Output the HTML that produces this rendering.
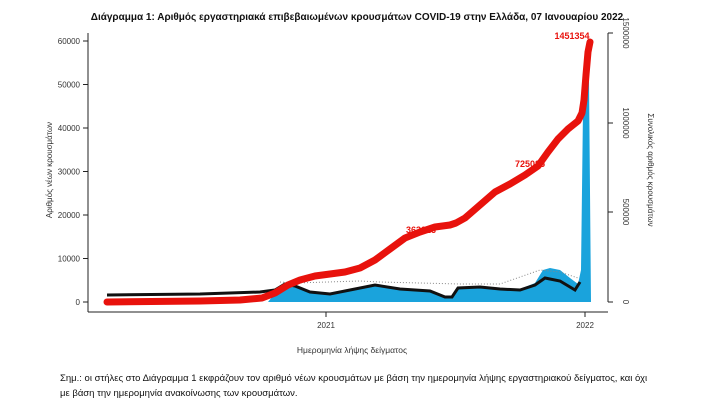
<!DOCTYPE html>
<html><head><meta charset="utf-8"><style>
body{margin:0;background:#fff;width:722px;height:418px;overflow:hidden}
svg{display:block;font-family:"Liberation Sans","DejaVu Sans",sans-serif}
</style></head><body>
<svg width="722" height="418" viewBox="0 0 722 418">
<text x="357" y="20" font-size="10" font-weight="bold" text-anchor="middle" fill="#111">Διάγραμμα 1: Αριθμός εργαστηριακά επιβεβαιωμένων κρουσμάτων COVID-19 στην Ελλάδα, 07 Ιανουαρίου 2022</text>
<g stroke="#222" stroke-width="1" fill="none">
<line x1="88" y1="33" x2="88" y2="312"/>
<line x1="88" y1="312" x2="608" y2="312"/>
<line x1="608" y1="33" x2="608" y2="302"/>
<line x1="83" y1="41" x2="88" y2="41"/><line x1="83" y1="84.5" x2="88" y2="84.5"/><line x1="83" y1="128" x2="88" y2="128"/><line x1="83" y1="171.5" x2="88" y2="171.5"/><line x1="83" y1="215" x2="88" y2="215"/><line x1="83" y1="258.5" x2="88" y2="258.5"/><line x1="83" y1="302" x2="88" y2="302"/>
<line x1="608" y1="33" x2="613" y2="33"/><line x1="608" y1="123" x2="613" y2="123"/><line x1="608" y1="212" x2="613" y2="212"/><line x1="608" y1="302" x2="613" y2="302"/>
<line x1="326" y1="312" x2="326" y2="317"/><line x1="585" y1="312" x2="585" y2="317"/>
</g>
<g font-size="8" fill="#333" text-anchor="end">
<text x="80" y="44">60000</text><text x="80" y="87.5">50000</text><text x="80" y="131">40000</text><text x="80" y="174.5">30000</text><text x="80" y="218">20000</text><text x="80" y="261.5">10000</text><text x="80" y="305">0</text>
</g>
<g font-size="8" fill="#333" text-anchor="middle">
<text transform="translate(623,33) rotate(90)">1500000</text>
<text transform="translate(623,123) rotate(90)">1000000</text>
<text transform="translate(623,212) rotate(90)">500000</text>
<text transform="translate(623,302) rotate(90)">0</text>
<text x="326" y="328">2021</text><text x="585" y="328">2022</text>
</g>
<text transform="translate(52,170) rotate(-90)" font-size="8" fill="#333" text-anchor="middle">Αριθμός νέων κρουσμάτων</text>
<text transform="translate(648,170) rotate(90)" font-size="8" fill="#333" text-anchor="middle">Συνολικός αριθμός κρουσμάτων</text>
<text x="352" y="353" font-size="8.5" fill="#333" text-anchor="middle">Ημερομηνία λήψης δείγματος</text>
<polygon fill="#1aa3dc" points="268,302 276,292 285,284 295,286 310,292 330,294 350,290 375,284 400,288 430,290 445,296 452,296 458,287 480,286 500,288 520,289 535,283 543,270 550,268 560,270 570,278 578,284 581,270 583,110 585,62 587,55 589,80 591,302"/>
<polyline fill="none" stroke="#111" stroke-width="3" points="107,295 200,294 260,292 275,290 285,284 295,286 310,292 330,294 350,290 375,285 400,289 430,291 445,297 452,297 458,288 480,287 500,289 520,290 535,285 545,278 560,281 575,290 580,282"/>
<polyline fill="none" stroke="#888" stroke-width="1" stroke-dasharray="1,2" points="280,282 295,283 360,281 380,282 460,284 500,284 540,270 560,272 578,278"/>
<polyline fill="none" stroke="#e8120c" stroke-width="7" stroke-linejoin="round" stroke-linecap="round" points="107,302 200,301 240,300 262,298 275,293 288,285 300,280 315,276 330,274 345,272 360,268 375,260 390,249 405,238 420,232 435,227 450,225 456,223 465,218 480,205 495,192 510,184 525,175 538,166 548,152 558,139 568,129 578,121 582,113 584,100 586,75 588,52 590,42"/>
<g font-size="9" font-weight="bold" fill="#e8120c" text-anchor="middle">
<text x="421" y="233">363023</text>
<text x="530" y="167">725085</text>
<text x="572" y="39">1451354</text>
</g>
<g font-size="9.5" fill="#111">
<text x="60" y="381">Σημ.: οι στήλες στο Διάγραμμα 1 εκφράζουν τον αριθμό νέων κρουσμάτων με βάση την ημερομηνία λήψης εργαστηριακού δείγματος, και όχι</text>
<text x="60" y="396">με βάση την ημερομηνία ανακοίνωσης των κρουσμάτων.</text>
</g>
</svg>
</body></html>
